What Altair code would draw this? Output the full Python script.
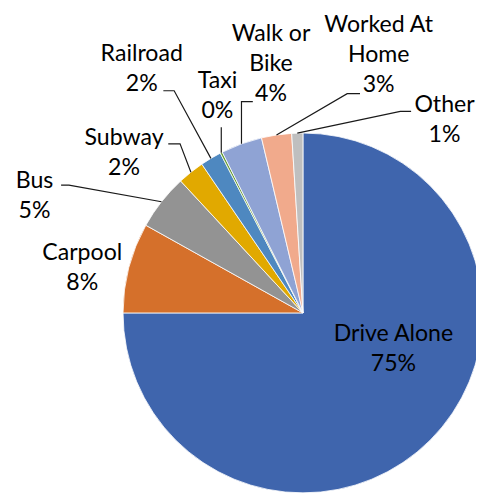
import math
import altair as alt
import pandas as pd

# ---- data ----
categories = ["Drive Alone", "Carpool", "Bus", "Subway", "Railroad",
              "Taxi", "Walk or Bike", "Worked At Home", "Other"]
values = [75.0, 8.1, 5.0, 2.4, 1.9, 0.2, 3.7, 2.7, 1.0]
label_names = ["Drive Alone", "Carpool", "Bus", "Subway", "Railroad",
               "Taxi", "Walk or\nBike", "Worked At\nHome", "Other"]
colors = ["#3f65ad", "#d5702b", "#939393", "#e1a900", "#4e88c0",
          "#6a9e3a", "#8fa3d4", "#f1aa8c", "#bfbfbf"]

# ---- layout (svg pixel coordinates) ----
CX, CY, R = 300, 306, 183
W, H = 476, 487
# label anchor: (center x, first baseline y)
label_pos = {
    "Drive Alone": (392, 335), "Carpool": (75.5, 252), "Bus": (27, 179),
    "Subway": (118, 135), "Railroad": (136, 50), "Taxi": (213, 77),
    "Walk or Bike": (267.5, 29), "Worked At Home": (377, 20), "Other": (444, 102),
}
# leader line start points (from label side)
leader_start = {
    "Bus": [(54, 176), (62, 176)],
    "Subway": [(163, 134), (175, 134)],
    "Railroad": [(158, 80), (169, 80)],
    "Taxi": [("arc", 117)],
    "Walk or Bike": [(249, 91), ("arc", 91)],
    "Worked At Home": [(358, 83), (345, 83)],
    "Other": [(410, 101), (399, 101)],
}

total = sum(values)
df = pd.DataFrame({
    "cat": categories,
    "value": values,
    "order": list(range(len(categories))),
    "label": [f"{n}\n{round(v)}%" for n, v in zip(label_names, values)],
})
df["lx"] = [label_pos[c][0] for c in categories]
df["ly"] = [label_pos[c][1] for c in categories]

# arc mid-points on the rim (derived from the data)
rows = []
cum = 0.0
for c, v in zip(categories, values):
    mid = (cum + v / 2) / total * 2 * math.pi
    cum += v
    ax = CX + R * math.sin(mid)
    ay = CY - R * math.cos(mid)
    if c in leader_start:
        pts = []
        for (px, py) in leader_start[c]:
            pts.append((ax if px == "arc" else px, py))
        pts.append((ax, ay))
        for i, (px, py) in enumerate(pts):
            rows.append({"cat": c, "seq": i, "x": px, "y": py})
lines_df = pd.DataFrame(rows)

pie = alt.Chart(df).mark_arc(radius=R, stroke="white", strokeWidth=0.8).encode(
    theta=alt.Theta("value:Q", stack=True),
    order=alt.Order("order:Q"),
    color=alt.Color("cat:N", scale=alt.Scale(domain=categories, range=colors), legend=None),
    x=alt.value(CX),
    y=alt.value(CY),
)

leaders = alt.Chart(lines_df).mark_line(color="#1a1a1a", strokeWidth=1.2).encode(
    x=alt.X("x:Q", scale=None, axis=None),
    y=alt.Y("y:Q", scale=None, axis=None),
    detail="cat:N",
    order="seq:Q",
)

labels = alt.Chart(df).mark_text(
    align="center", baseline="alphabetic", lineBreak="\n", lineHeight=30.5,
    font="Lato", fontSize=23.5, color="#000000",
).encode(
    x=alt.X("lx:Q", scale=None, axis=None),
    y=alt.Y("ly:Q", scale=None, axis=None),
    text="label:N",
)

chart = alt.layer(pie, leaders, labels).properties(
    width=W, height=H, padding=0, autosize=alt.AutoSizeParams(type="none"),
    background="white",
).configure_view(stroke=None)

chart.save("out.html", embed_options={"renderer": "svg", "actions": False})
